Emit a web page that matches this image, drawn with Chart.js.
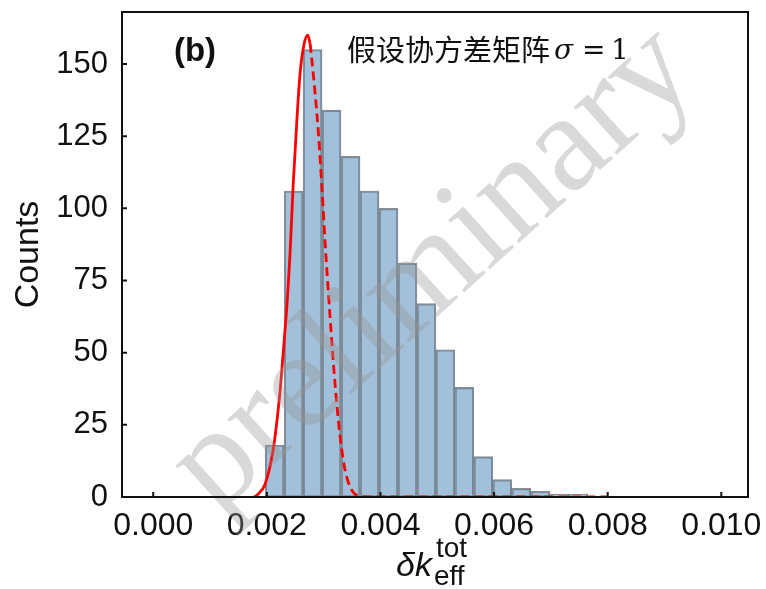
<!DOCTYPE html>
<html>
<head>
<meta charset="utf-8">
<script src="https://cdn.jsdelivr.net/npm/chart.js@4.4.0/dist/chart.umd.min.js"></script>
<style>
  html, body { margin: 0; padding: 0; background: #fff; }
  #wrap { width: 766px; height: 589px; }
</style>
</head>
<body>
<div id="wrap"><canvas id="ChartHist" width="766" height="589"></canvas></div>
<script>
// Histogram bins (centre of each bin) and counts
const binCenters = [0.002137, 0.002471, 0.002805, 0.003139, 0.003473, 0.003807, 0.004141, 0.004475,
    0.004809, 0.005143, 0.005477, 0.005811, 0.006145, 0.006479, 0.006813, 0.007147, 0.007481];
const binCounts = [18, 106, 155, 134, 118, 106, 100, 81, 67, 51, 38, 14, 6, 3, 2, 1, 1];

// Red curve, solid part (left flank up to the peak)
const solidX = [0.001777, 0.001829, 0.001970, 0.002116, 0.002234, 0.002292, 0.002352, 0.002410,
    0.002463, 0.002533, 0.002586, 0.002656, 0.002721, 0.002762];
const solidY = [0, 0.7, 4.5, 17, 37, 51, 66, 85, 108, 132, 147, 157, 160, 157];

// Red curve, dashed part (right flank + baseline)
const dashX = [0.002762, 0.002820, 0.002908, 0.002973, 0.003026, 0.003114, 0.003201, 0.003289,
    0.003377, 0.003495, 0.003641, 0.003817, 0.008000];
const dashY = [157, 146, 126, 106, 88, 62, 39, 21, 9.3, 2.4, 0.3, 0, 0];
const dashLeftX = [0.0, 0.001777];
const dashLeftY = [0, 0];

// Tick labels
const xTicks = [0.000, 0.002, 0.004, 0.006, 0.008, 0.010];
const yTicks = [0, 25, 50, 75, 100, 125, 150];

const toPoints = (xs, ys) => xs.map((x, i) => ({x: x, y: ys[i]}));

// frame, inward ticks, labels and watermark
const decorPlugin = {
    id: 'decor',
    afterDatasetsDraw(chart) {
        const ctx = chart.ctx;
        // watermark
        ctx.save();
        ctx.translate(434, 270);
        ctx.rotate(-42 * Math.PI / 180);
        ctx.fillStyle = 'rgba(150,150,150,0.36)';
        ctx.font = '140px "Liberation Serif"';
        ctx.textAlign = 'center';
        ctx.textBaseline = 'middle';
        ctx.fillText('preliminary', 0, 0);
        ctx.restore();
    },
    afterDraw(chart) {
        const ctx = chart.ctx;
        const a = chart.chartArea;
        const xs = chart.scales.x, ys = chart.scales.y;
        ctx.save();
        ctx.strokeStyle = '#111';
        ctx.lineWidth = 2;
        ctx.strokeRect(a.left, a.top, a.right - a.left, a.bottom - a.top);
        ctx.beginPath();
        xTicks.forEach(v => {
            const px = xs.getPixelForValue(v);
            ctx.moveTo(px, a.bottom);
            ctx.lineTo(px, a.bottom - 5);
        });
        yTicks.forEach(v => {
            const py = ys.getPixelForValue(v);
            ctx.moveTo(a.left, py);
            ctx.lineTo(a.left + 5, py);
        });
        ctx.stroke();

        // panel label
        ctx.fillStyle = '#111';
        ctx.textBaseline = 'middle';
        ctx.textAlign = 'center';
        ctx.font = 'bold 33px "Liberation Sans"';
        ctx.fillText('(b)', 195, 52);

        // annotation
        ctx.textAlign = 'left';
        ctx.font = '29px "Noto Sans CJK SC"';
        ctx.fillText('假设协方差矩阵', 347, 50);
        ctx.font = 'italic 28px "DejaVu Serif"';
        ctx.fillText('σ', 554, 52);
        ctx.font = '28px "DejaVu Serif"';
        ctx.fillText('=', 582, 52);
        ctx.fillText('1', 611, 52);

        // x axis title
        ctx.textBaseline = 'alphabetic';
        ctx.font = 'italic 34px "Liberation Sans"';
        ctx.fillText('δk', 396, 576);
        ctx.font = '28px "Liberation Sans"';
        ctx.fillText('eff', 434, 585);
        ctx.fillText('tot', 436, 557);
        ctx.restore();
    }
};

new Chart(document.getElementById('ChartHist'), {
    type: 'bar',
    data: {
        datasets: [{
            type: 'line',
            data: toPoints(solidX, solidY),
            borderColor: '#ff0000',
            borderWidth: 2.8,
            pointRadius: 0,
            cubicInterpolationMode: 'monotone',
            order: 1
        }, {
            type: 'line',
            data: toPoints(dashX, dashY),
            borderColor: '#ff0000',
            borderWidth: 2.8,
            borderDash: [9, 5],
            pointRadius: 0,
            cubicInterpolationMode: 'monotone',
            order: 1
        }, {
            type: 'line',
            data: toPoints(dashLeftX, dashLeftY),
            borderColor: '#ff0000',
            borderWidth: 2,
            borderDash: [9, 5],
            pointRadius: 0,
            order: 1
        }, {
            type: 'bar',
            data: toPoints(binCenters, binCounts),
            backgroundColor: 'rgba(70,130,180,0.5)',
            borderColor: 'rgba(40,50,60,0.55)',
            borderWidth: 1.5,
            borderSkipped: false,
            barPercentage: 1,
            categoryPercentage: 1,
            grouped: false,
            order: 2
        }]
    },
    options: {
        responsive: false,
        animation: false,
        events: [],
        layout: { autoPadding: false, padding: { left: 0, right: 18, top: 12, bottom: 0 } },
        plugins: {
            legend: { display: false },
            tooltip: { enabled: false },
            title: { display: false }
        },
        scales: {
            x: {
                type: 'linear',
                min: -0.00055,
                max: 0.01047,
                offset: false,
                grid: { display: false, drawTicks: false },
                border: { display: false },
                afterBuildTicks: (scale) => { scale.ticks = xTicks.map(v => ({value: v})); },
                afterFit: (scale) => {
                    scale.height = 92;
                    scale.paddingLeft = 0;
                    scale.paddingRight = 0;
                },
                ticks: {
                    padding: 10,
                    color: '#111',
                    maxRotation: 0,
                    autoSkip: false,
                    font: { family: 'Liberation Sans', size: 32 },
                    callback: (v) => Number(v).toFixed(3)
                }
            },
            y: {
                min: 0,
                max: 168,
                grid: { display: false, drawTicks: false },
                border: { display: false },
                afterBuildTicks: (scale) => { scale.ticks = yTicks.map(v => ({value: v})); },
                afterFit: (scale) => {
                    scale.width = 122;
                    scale.paddingTop = 0;
                    scale.paddingBottom = 0;
                },
                title: {
                    display: true,
                    text: 'Counts',
                    color: '#111',
                    font: { family: 'Liberation Sans', size: 34 },
                    padding: { top: 8, bottom: 0 }
                },
                ticks: {
                    padding: 14,
                    color: '#111',
                    autoSkip: false,
                    font: { family: 'Liberation Sans', size: 31 }
                }
            }
        }
    },
    plugins: [decorPlugin]
});
</script>
</body>
</html>
